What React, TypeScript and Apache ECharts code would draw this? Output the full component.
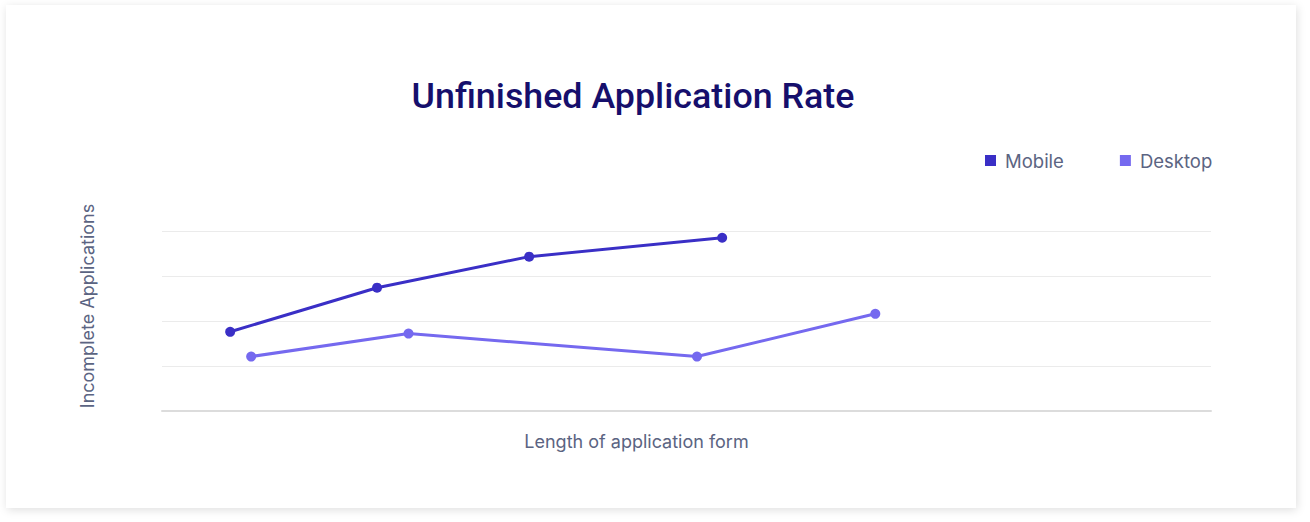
import React, { useEffect, useRef } from "react";
import * as echarts from "echarts";

const titleText = "Unfinished Application Rate";
const xAxisName = "Length of application form";
const yAxisName = "Incomplete Applications";
const seriesNames = ["Mobile", "Desktop"];
const mobileX = [6.5, 20.5, 35.0, 53.4];
const mobileY = [1.76, 2.74, 3.43, 3.85];
const desktopX = [8.5, 23.5, 51.0, 68.0];
const desktopY = [1.21, 1.72, 1.21, 2.16];

const MOBILE_COLOR = "#3a2fc6";
const DESKTOP_COLOR = "#7569ef";
const TEXT_GRAY = "#5b6482";

export default function App() {
  const ref = useRef<HTMLDivElement>(null);

  useEffect(() => {
    if (!ref.current) return;
    const chart = echarts.init(ref.current, undefined, { renderer: "svg" });
    const mobileData = mobileX.map((x, i) => [x, mobileY[i]]);
    const desktopData = desktopX.map((x, i) => [x, desktopY[i]]);
    chart.setOption({
      animation: false,
      backgroundColor: "transparent",
      legend: {
        left: 985,
        top: 151,
        padding: 0,
        icon: "rect",
        itemWidth: 11,
        itemHeight: 11,
        itemGap: 56,
        data: seriesNames,
        textStyle: {
          fontFamily: "Inter",
          fontSize: 18.5,
          lineHeight: 18,
          color: TEXT_GRAY,
          padding: [0, 0, 0, 4],
        },
      },
      grid: { left: 162, right: 99, top: 231, bottom: 111, containLabel: false },
      xAxis: {
        type: "value",
        min: 0,
        max: 100,
        axisLabel: { show: false },
        axisTick: { show: false },
        splitLine: { show: false },
        axisLine: { show: true, lineStyle: { color: "#dcdcdc", width: 2 } },
      },
      yAxis: {
        type: "value",
        min: 0,
        max: 4,
        interval: 1,
        axisLabel: { show: false },
        axisTick: { show: false },
        axisLine: { show: false },
        splitLine: { lineStyle: { color: "#ebebeb", width: 1 } },
      },
      graphic: [
        {
          type: "text",
          x: 633,
          y: 96,
          style: {
            text: titleText,
            fontFamily: "Roboto",
            fontWeight: 500,
            fontSize: 35.8,
            fill: "#160f6c",
            textAlign: "center",
            textVerticalAlign: "middle",
          },
        },
        {
          type: "text",
          x: 636.5,
          y: 441,
          style: {
            text: xAxisName,
            fontFamily: "Inter",
            fontSize: 18,
            fill: TEXT_GRAY,
            textAlign: "center",
            textVerticalAlign: "middle",
          },
        },
        {
          type: "text",
          x: 87,
          y: 306,
          rotation: Math.PI / 2,
          style: {
            text: yAxisName,
            fontFamily: "Inter",
            fontSize: 18,
            fill: TEXT_GRAY,
            textAlign: "center",
            textVerticalAlign: "middle",
          },
        },
      ],
      series: [
        {
          name: seriesNames[0],
          type: "line",
          data: mobileData,
          symbol: "circle",
          symbolSize: 10,
          itemStyle: { color: MOBILE_COLOR },
          lineStyle: { color: MOBILE_COLOR, width: 3 },
        },
        {
          name: seriesNames[1],
          type: "line",
          data: desktopData,
          symbol: "circle",
          symbolSize: 10,
          itemStyle: { color: DESKTOP_COLOR },
          lineStyle: { color: DESKTOP_COLOR, width: 3 },
        },
      ],
    });
    return () => chart.dispose();
  }, []);

  return (
    <div
      style={{
        position: "fixed",
        left: 0,
        top: 0,
        width: 1310,
        height: 522,
        background: "#ffffff",
        overflow: "hidden",
      }}
    >
      <div
        style={{
          position: "absolute",
          left: 6,
          top: 5,
          width: 1290,
          height: 503,
          background: "#ffffff",
          boxShadow: "1px 2px 9px rgba(0,0,0,0.13)",
        }}
      />
      <div
        ref={ref}
        style={{ position: "absolute", left: 0, top: 0, width: 1310, height: 522 }}
      />
    </div>
  );
}
